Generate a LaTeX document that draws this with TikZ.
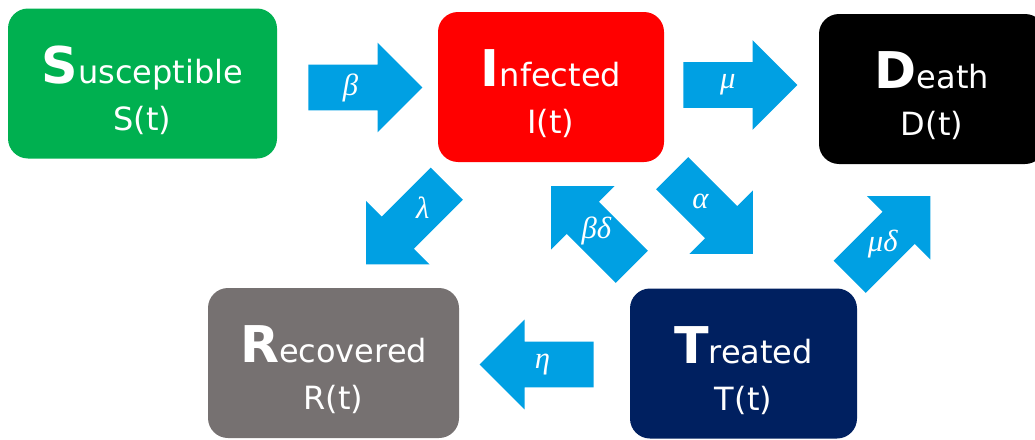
\documentclass[tikz,border=0pt]{standalone}
\usepackage{fontspec}
\setmainfont{DejaVu Sans}
\newfontfamily\ratefont{Liberation Serif}
\usetikzlibrary{shapes.arrows, positioning, calc}

\definecolor{susgreen}{RGB}{0,176,80}
\definecolor{infred}{RGB}{255,0,0}
\definecolor{recgray}{RGB}{118,113,113}
\definecolor{trenavy}{RGB}{0,32,96}
\definecolor{flowblue}{RGB}{0,160,227}

\newcommand{\initial}[1]{{\fontsize{38}{38}\selectfont\bfseries #1}}
\newcommand{\topstrut}{\rule{0pt}{38pt}}

\begin{document}
\begin{tikzpicture}[
  x=0.75pt, y=-0.75pt,
  compartment/.style={rounded corners=15pt,minimum height=112.5pt,align=center,
    text=white,inner sep=0pt,font=\fontsize{24}{35}\selectfont},
  flow/.style={single arrow,fill=flowblue,single arrow tip angle=90,
    single arrow head extend=16.5pt,minimum height=85.5pt,
    inner xsep=0pt,inner ysep=16.875pt},
  rate/.style={text=white,inner sep=0pt,font=\ratefont\itshape\fontsize{23}{23}\selectfont}]
  \clip (0,0) rectangle (1035,439);
  % compartments
  \node[compartment,fill=susgreen,minimum width=201.75pt] (sus) at (142.5,83.5)
    {\topstrut\initial{S}usceptible\\S(t)};
  \node[compartment,fill=infred,minimum width=169.5pt] (inf) at (551,87)
    {\topstrut\initial{I}nfected\\I(t)};
  \node[compartment,fill=black,minimum width=169.5pt] (dea) at (932,89)
    {\topstrut\initial{D}eath\\D(t)};
  \node[compartment,fill=recgray,minimum width=188.25pt] (rec) at (333.5,363)
    {\topstrut\initial{R}ecovered\\R(t)};
  \node[compartment,fill=trenavy,minimum width=170.25pt] (tre) at (743.5,363.5)
    {\topstrut\initial{T}reated\\T(t)};
  % flows
  \node[flow,anchor=tail] (sinf) at (308,87.5) {};
  \node[flow,anchor=tail] (idea) at (683,85) {};
  \node[flow,rotate=180,anchor=tail] (trec) at (594,364.5) {};
  \node[flow,rotate=225,anchor=tail] (irec) at (447,183.5) {};
  \node[flow,rotate=135,anchor=tail] (tinf) at (632,267) {};
  \node[flow,rotate=315,anchor=tail] (itre) at (672,173) {};
  \node[flow,rotate=45,anchor=tail] (tdea) at (849.5,277) {};
  % rates
  \node[rate] at ($(sinf.tail)!0.37!(sinf.tip)$) {β};
  \node[rate] at ($(idea.tail)!0.39!(idea.tip)$) {μ};
  \node[rate] at ($(trec.tail)!0.45!(trec.tip)$) {η};
  \node[rate] at ($(irec.tail)!0.30!(irec.tip)$) {λ};
  \node[rate] at ($(tinf.tail)!0.44!(tinf.tip)$) {βδ};
  \node[rate] at ($(itre.tail)!0.35!(itre.tip)$) {α};
  \node[rate] at ($(tdea.tail)!0.41!(tdea.tip)$) {μδ};
\end{tikzpicture}
\end{document}
